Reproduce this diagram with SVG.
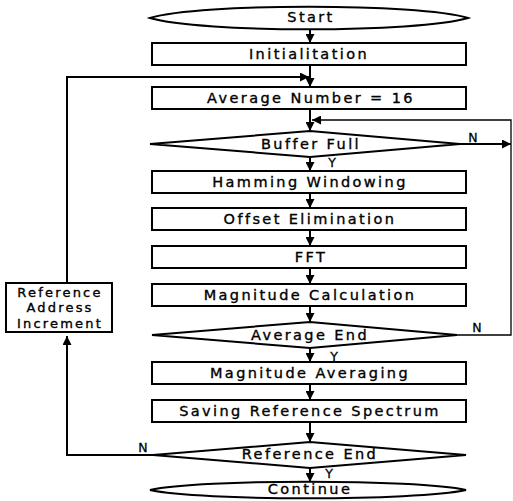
<svg xmlns="http://www.w3.org/2000/svg" width="513" height="501" viewBox="0 0 513 501">
<style>
.box{fill:#fff;stroke:#000;stroke-width:2}
.t{font-family:"DejaVu Sans",Verdana,sans-serif;font-size:14.5px;letter-spacing:2.4px;text-anchor:middle;dominant-baseline:central;fill:#000;stroke:#000;stroke-width:0.35}
.s{font-size:13px;letter-spacing:2.2px}
.lbl{font-family:"DejaVu Sans",Verdana,sans-serif;font-size:12.5px;text-anchor:middle;dominant-baseline:central;fill:#000;stroke:#000;stroke-width:0.3}
.c{fill:none;stroke:#000;stroke-width:2}
.thin{fill:none;stroke:#000;stroke-width:1.3}
</style>
<defs>
<marker id="ah" viewBox="0 0 10 10" refX="10" refY="5" markerWidth="9" markerHeight="9" markerUnits="userSpaceOnUse" orient="auto">
<path d="M0,0 L10,5 L0,10 Z" fill="#000"/>
</marker>
</defs>
<rect width="513" height="501" fill="#fff"/>
<g id="connectors">
<line class="c" x1="310" y1="29" x2="310" y2="43" marker-end="url(#ah)"/>
<line class="c" x1="310" y1="65" x2="310" y2="87" marker-end="url(#ah)"/>
<line class="c" x1="310" y1="109" x2="310" y2="131" marker-end="url(#ah)"/>
<line class="c" x1="310" y1="157" x2="310" y2="171" marker-end="url(#ah)"/>
<line class="c" x1="310" y1="193" x2="310" y2="208" marker-end="url(#ah)"/>
<line class="c" x1="310" y1="230" x2="310" y2="246" marker-end="url(#ah)"/>
<line class="c" x1="310" y1="268" x2="310" y2="284" marker-end="url(#ah)"/>
<line class="c" x1="310" y1="306" x2="310" y2="322" marker-end="url(#ah)"/>
<line class="c" x1="310" y1="348" x2="310" y2="362" marker-end="url(#ah)"/>
<line class="c" x1="310" y1="384" x2="310" y2="400" marker-end="url(#ah)"/>
<line class="c" x1="310" y1="422" x2="310" y2="442" marker-end="url(#ah)"/>
<line class="c" x1="310" y1="468" x2="310" y2="482" marker-end="url(#ah)"/>
<polyline class="c" points="153,455 67,455 67,336" marker-end="url(#ah)"/>
<polyline class="c" points="67,283 67,77 309,77" marker-end="url(#ah)"/>
<polyline class="thin" points="457,335 511,335 511,120 312,120" marker-end="url(#ah)"/>
<line class="c" x1="460" y1="144" x2="511" y2="144" marker-end="url(#ah)"/>
<text class="lbl" x="473" y="137">N</text>
<text class="lbl" x="332" y="162">Y</text>
<text class="lbl" x="477" y="327">N</text>
<text class="lbl" x="334" y="356">Y</text>
<text class="lbl" x="143" y="447">N</text>
<text class="lbl" x="329" y="473">Y</text>
</g>
<g id="start">
<path class="box" d="M150,18 C200,3 418,3 468,18 C418,33 200,33 150,18 Z"/>
<text class="t" x="311" y="17">Start</text>
</g>
<g id="init">
<rect class="box" x="152" y="43" width="314" height="22"/>
<text class="t" x="309" y="54">Initialitation</text>
</g>
<g id="avgnum">
<rect class="box" x="152" y="87" width="314" height="22"/>
<text class="t" x="311" y="98">Average Number = 16</text>
</g>
<g id="bufferfull">
<polygon class="box" points="150,144 310,131 460,144 310,157"/>
<text class="t" x="311" y="144">Buffer Full</text>
</g>
<g id="hamming">
<rect class="box" x="152" y="171" width="314" height="22"/>
<text class="t" x="310" y="182">Hamming Windowing</text>
</g>
<g id="offset">
<rect class="box" x="152" y="208" width="314" height="22"/>
<text class="t" x="310" y="219">Offset Elimination</text>
</g>
<g id="fft">
<rect class="box" x="152" y="246" width="314" height="22"/>
<text class="t" x="311" y="257">FFT</text>
</g>
<g id="magcalc">
<rect class="box" x="152" y="284" width="314" height="22"/>
<text class="t" x="310" y="295">Magnitude Calculation</text>
</g>
<g id="avgend">
<polygon class="box" points="152,335 310,322 457,335 310,348"/>
<text class="t" x="310" y="335">Average End</text>
</g>
<g id="magavg">
<rect class="box" x="152" y="362" width="314" height="22"/>
<text class="t" x="310" y="373">Magnitude Averaging</text>
</g>
<g id="saving">
<rect class="box" x="152" y="400" width="314" height="22"/>
<text class="t" x="310" y="411">Saving Reference Spectrum</text>
</g>
<g id="refend">
<polygon class="box" points="153,455 310,442 466,455 310,468"/>
<text class="t" x="310" y="454">Reference End</text>
</g>
<g id="continue">
<path class="box" d="M150,490 C200,479 416,479 466,490 C416,501 200,501 150,490 Z"/>
<text class="t" x="310" y="489">Continue</text>
</g>
<g id="refaddr">
<rect class="box" x="6" y="283" width="106" height="49"/>
<text class="t s" x="60" y="292">Reference</text>
<text class="t s" x="60" y="307.5">Address</text>
<text class="t s" x="60" y="323">Increment</text>
</g>
</svg>
